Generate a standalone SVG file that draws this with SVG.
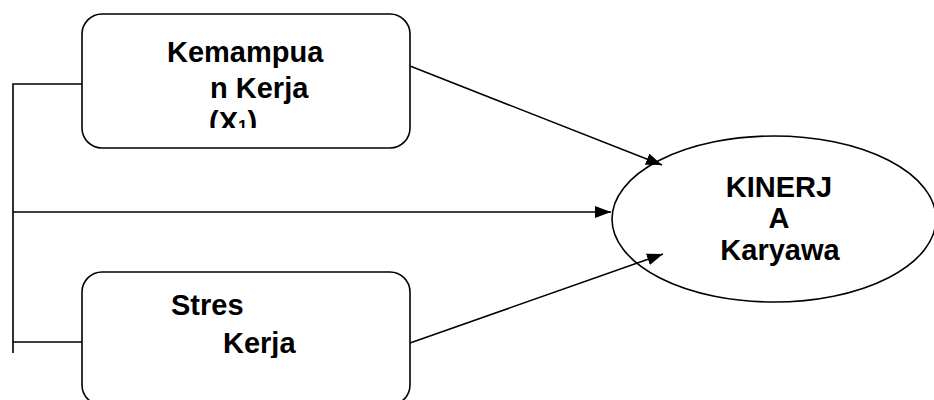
<svg xmlns="http://www.w3.org/2000/svg" width="934" height="400" viewBox="0 0 934 400">
<defs>
<style>
.box{fill:#fff;stroke:#000;stroke-width:1.6}
.ln{fill:none;stroke:#000;stroke-width:1.6}
.t{font-family:"Liberation Sans",Arial,sans-serif;font-weight:bold;font-size:29px;fill:#000}
</style>
<marker id="ah" viewBox="0 0 16 12" refX="16" refY="6" markerWidth="16" markerHeight="12" markerUnits="userSpaceOnUse" orient="auto">
<path d="M0,0 L16,6 L0,12 Z" fill="#000"/>
</marker>
<clipPath id="c1"><rect x="82" y="14" width="328" height="114"/></clipPath>
<clipPath id="c2"><rect x="82" y="272" width="328" height="86"/></clipPath>
</defs>
<rect width="934" height="400" fill="#fff"/>
<g id="x1">
<rect class="box" x="82" y="14" width="328" height="134" rx="20"/>
<g clip-path="url(#c1)">
<text class="t" x="167" y="62">Kemampua</text>
<text class="t" x="210" y="98">n Kerja</text>
<text class="t" x="209" y="132">(X<tspan font-size="17">1</tspan>)</text>
</g>
</g>
<g id="x2">
<rect class="box" x="82" y="272" width="328" height="133" rx="20"/>
<g clip-path="url(#c2)">
<text class="t" x="171" y="315">Stres</text>
<text class="t" x="223" y="353">Kerja</text>
</g>
</g>
<g id="y">
<ellipse class="box" cx="774" cy="219" rx="162" ry="83"/>
<text class="t" x="779" y="197" text-anchor="middle">KINERJ</text>
<text class="t" x="779" y="228" text-anchor="middle">A</text>
<text class="t" x="780" y="260" text-anchor="middle">Karyawa</text>
</g>
<g id="connectors">
<polyline class="ln" points="82,84 13,84 13,353"/>
<line class="ln" x1="13" y1="342" x2="82" y2="342"/>
<line class="ln" x1="13" y1="212" x2="611" y2="212" marker-end="url(#ah)"/>
<line class="ln" x1="410" y1="66" x2="662" y2="165" marker-end="url(#ah)"/>
<line class="ln" x1="410" y1="343" x2="663" y2="254" marker-end="url(#ah)"/>
</g>
</svg>
